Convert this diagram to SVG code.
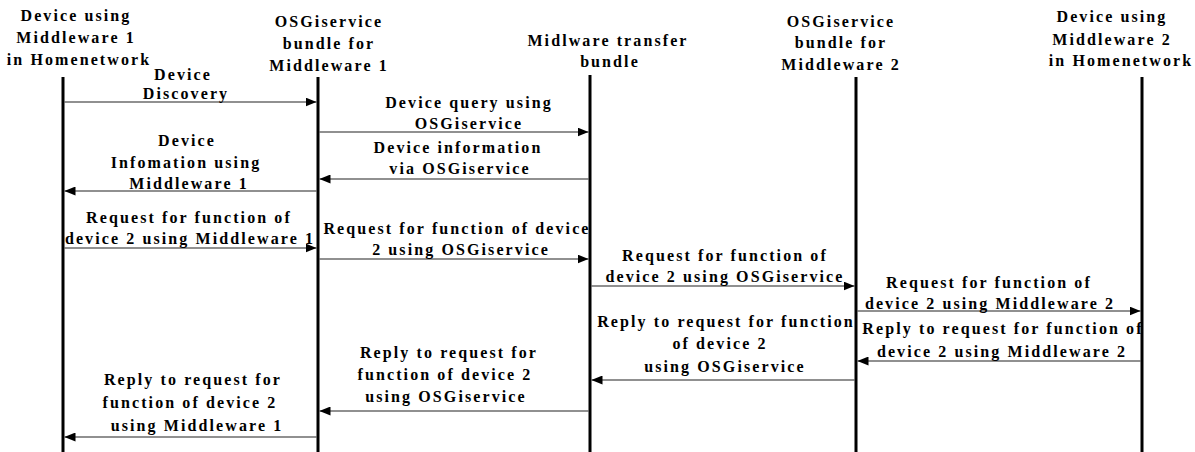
<svg xmlns="http://www.w3.org/2000/svg" width="1195" height="452" viewBox="0 0 1195 452">
<style>
text{font-family:"Liberation Serif","Times New Roman",serif;font-weight:bold;font-size:16px;letter-spacing:2.1px;fill:#000;text-anchor:middle}
.life{stroke:#000;stroke-width:3;fill:none}
.msg{stroke:#222;stroke-width:1.2;fill:none;marker-end:url(#ah)}
</style>
<defs>
<marker id="ah" markerUnits="userSpaceOnUse" markerWidth="11" markerHeight="9" refX="11" refY="4.5" orient="auto">
<path d="M0,0 L11,4.5 L0,9 z" fill="#000"/>
</marker>
</defs>
<rect width="1195" height="452" fill="#fff"/>
<g id="dev1">
<text x="76" y="21">Device using</text>
<text x="76" y="43">Middleware 1</text>
<text x="79" y="65">in Homenetwork</text>
<line class="life" x1="63" y1="77" x2="63" y2="452"/>
</g>
<g id="osgi1">
<text x="329" y="27">OSGiservice</text>
<text x="329" y="49">bundle for</text>
<text x="329" y="71">Middleware 1</text>
<line class="life" x1="318" y1="77" x2="318" y2="452"/>
</g>
<g id="transfer">
<text x="608" y="46">Midlware transfer</text>
<text x="610" y="67">bundle</text>
<line class="life" x1="590" y1="75" x2="590" y2="452"/>
</g>
<g id="osgi2">
<text x="841" y="27">OSGiservice</text>
<text x="841" y="48">bundle for</text>
<text x="841" y="70">Middleware 2</text>
<line class="life" x1="856" y1="77" x2="856" y2="452"/>
</g>
<g id="dev2">
<text x="1112" y="22">Device using</text>
<text x="1112" y="45">Middleware 2</text>
<text x="1121" y="66">in Homenetwork</text>
<line class="life" x1="1142" y1="77" x2="1142" y2="452"/>
</g>
<g id="connectors">
<g id="m1">
<line class="msg" x1="64.5" y1="102" x2="316.5" y2="102"/>
<text x="183" y="80">Device</text>
<text x="186" y="99">Discovery</text>
</g>
<g id="m2">
<line class="msg" x1="319.5" y1="132" x2="588.5" y2="132"/>
<text x="469" y="108">Device query using</text>
<text x="469" y="129">OSGiservice</text>
</g>
<g id="m3">
<line class="msg" x1="588.5" y1="179" x2="319.5" y2="179"/>
<text x="458" y="153">Device information</text>
<text x="460" y="174">via OSGiservice</text>
</g>
<g id="m4">
<line class="msg" x1="316.5" y1="191" x2="64.5" y2="191"/>
<text x="187" y="146">Device</text>
<text x="186" y="168">Infomation using</text>
<text x="189" y="189">Middleware 1</text>
</g>
<g id="m5">
<line class="msg" x1="64.5" y1="248" x2="316.5" y2="248"/>
<text x="189" y="223">Request for function of</text>
<text x="190" y="244">device 2 using Middleware 1</text>
</g>
<g id="m6">
<line class="msg" x1="319.5" y1="259" x2="588.5" y2="259"/>
<text x="457" y="234">Request for function of device</text>
<text x="461" y="255">2 using OSGiservice</text>
</g>
<g id="m7">
<line class="msg" x1="591.5" y1="286" x2="854.5" y2="286"/>
<text x="725" y="261">Request for function of</text>
<text x="725" y="282">device 2 using OSGiservice</text>
</g>
<g id="m8">
<line class="msg" x1="857.5" y1="311" x2="1140.5" y2="311"/>
<text x="989" y="288">Request for function of</text>
<text x="990" y="309">device 2 using Middleware 2</text>
</g>
<g id="m9">
<line class="msg" x1="1140.5" y1="361" x2="857.5" y2="361"/>
<text x="1003" y="334">Reply to request for function of</text>
<text x="1002" y="357">device 2 using Middleware 2</text>
</g>
<g id="m10">
<line class="msg" x1="854.5" y1="380" x2="591.5" y2="380"/>
<text x="726" y="327">Reply to request for function</text>
<text x="720" y="349">of device 2</text>
<text x="725" y="372">using OSGiservice</text>
</g>
<g id="m11">
<line class="msg" x1="588.5" y1="411" x2="319.5" y2="411"/>
<text x="449" y="358">Reply to request for</text>
<text x="445" y="380">function of device 2</text>
<text x="446" y="402">using OSGiservice</text>
</g>
<g id="m12">
<line class="msg" x1="316.5" y1="437" x2="64.5" y2="437"/>
<text x="193" y="385">Reply to request for</text>
<text x="190" y="408">function of device 2</text>
<text x="197" y="431">using Middleware 1</text>
</g>
</g>
</svg>
